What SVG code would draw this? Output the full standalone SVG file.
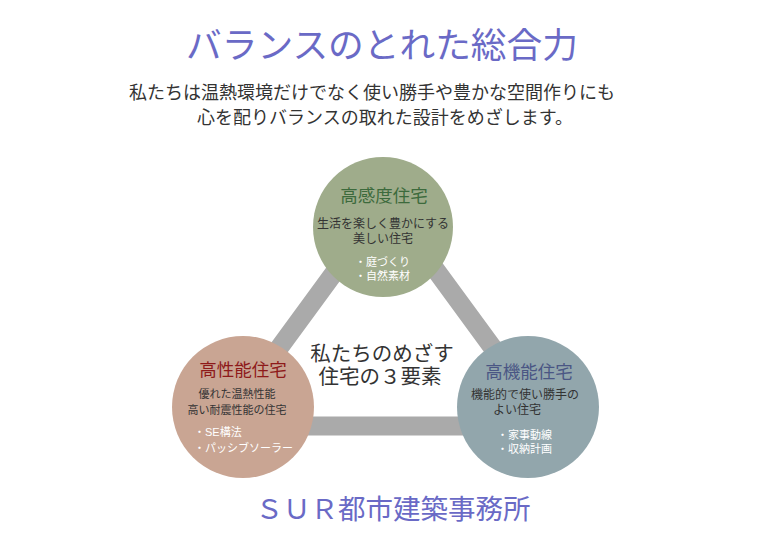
<svg xmlns="http://www.w3.org/2000/svg" xml:lang="ja" width="783" height="559" viewBox="0 0 783 559">
<style>
text{font-family:"Liberation Sans","Noto Sans CJK JP",sans-serif;text-anchor:middle}
.title{font-size:35.7px;fill:#6a6ac6}
.sub{font-size:18px;fill:#333}
.center{font-size:20.5px;fill:#333}
.head{font-size:17.5px}
.desc{font-size:12px;fill:#333}
.item{font-size:11px;fill:#fff;text-anchor:start}
.bar{stroke:#aaaaaa;stroke-width:19;fill:none;stroke-linejoin:miter}
</style>
<rect width="783" height="559" fill="#fff"/>
<text class="title" x="382" y="58">バランスのとれた総合力</text>
<text class="sub"><tspan x="372" y="99">私たちは温熱環境だけでなく使い勝手や豊かな空間作りにも</tspan><tspan x="385" y="124">心を配りバランスの取れた設計をめざします。</tspan></text>
<g id="connectors">
<path class="bar" d="M386 202 L222 426 L550 426 Z"/>
</g>
<g id="center-label">
<text class="center"><tspan x="382" y="361">私たちのめざす</tspan><tspan x="380" y="384">住宅の３要素</tspan></text>
</g>
<g id="node-top">
<circle cx="383" cy="227" r="70" fill="#9fac8b"/>
<text class="head" x="384" y="202" fill="#3c6a3c">高感度住宅</text>
<text class="desc"><tspan x="383" y="228">生活を楽しく豊かにする</tspan><tspan x="383" y="243">美しい住宅</tspan></text>
<text class="item"><tspan x="355" y="266">・庭づくり</tspan><tspan x="355" y="280">・自然素材</tspan></text>
</g>
<g id="node-left">
<circle cx="243" cy="407" r="71" fill="#c9a593"/>
<text class="head" x="243" y="376" fill="#8e1a1a">高性能住宅</text>
<text class="desc" style="font-size:11px"><tspan x="237" y="398">優れた温熱性能</tspan><tspan x="237" y="414">高い耐震性能の住宅</tspan></text>
<text class="item"><tspan x="194" y="436">・SE構法</tspan><tspan x="194" y="452">・パッシブソーラー</tspan></text>
</g>
<g id="node-right">
<circle cx="528" cy="407" r="71" fill="#92a6ac"/>
<text class="head" x="529" y="378" fill="#4a5684">高機能住宅</text>
<text class="desc"><tspan x="525" y="399">機能的で使い勝手の</tspan><tspan x="517" y="414">よい住宅</tspan></text>
<text class="item"><tspan x="497" y="439">・家事動線</tspan><tspan x="497" y="453">・収納計画</tspan></text>
</g>
<text class="title" x="393" y="519" style="font-size:27.5px">ＳＵＲ都市建築事務所</text>
</svg>
